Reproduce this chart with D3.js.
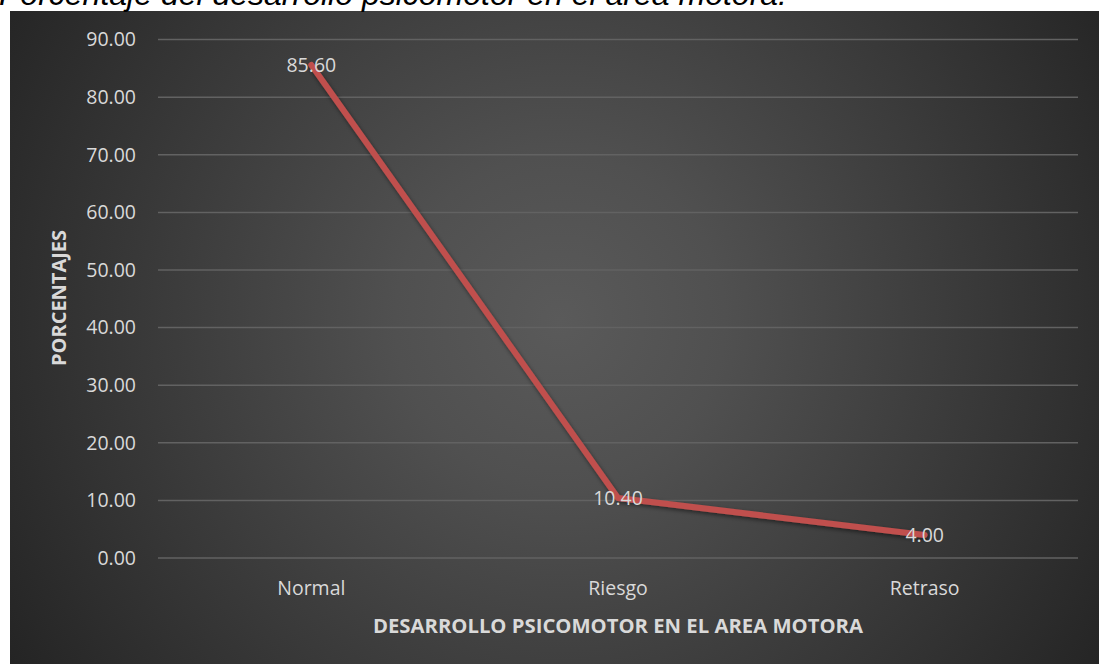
<!DOCTYPE html>
<html><head><meta charset="utf-8">
<script src="https://cdn.jsdelivr.net/npm/d3@7"></script>
<style>html,body{margin:0;padding:0;background:#fff;overflow:hidden}</style>
</head><body>
<script>
const categories = ["Normal", "Riesgo", "Retraso"];
const values = [85.60, 10.40, 4.00];
const yTicks = [0, 10, 20, 30, 40, 50, 60, 70, 80, 90];
const title = "Porcentaje del desarrollo psicomotor en el área motora.";
const yTitle = "PORCENTAJES";
const xTitle = "DESARROLLO PSICOMOTOR EN EL AREA MOTORA";

const W = 1099, H = 664;
const svg = d3.select("body").append("svg").attr("width", W).attr("height", H);
const defs = svg.append("defs");
const rg = defs.append("radialGradient").attr("id", "bg")
  .attr("gradientUnits", "userSpaceOnUse")
  .attr("cx", 560).attr("cy", 320).attr("r", 660);
rg.append("stop").attr("offset", "0%").attr("stop-color", "#5a5a5a");
rg.append("stop").attr("offset", "25%").attr("stop-color", "#505050");
rg.append("stop").attr("offset", "100%").attr("stop-color", "#232323");
const f = defs.append("filter").attr("id", "sh").attr("x", "-10%").attr("y", "-10%").attr("width", "120%").attr("height", "120%");
f.append("feDropShadow").attr("dx", 1).attr("dy", 2).attr("stdDeviation", 2).attr("flood-color", "#000").attr("flood-opacity", 0.5);

svg.append("rect").attr("x", 10).attr("y", 11).attr("width", W - 10).attr("height", H - 11).attr("fill", "url(#bg)");

svg.append("text").attr("x", -1).attr("y", 5)
  .attr("font-family", "Liberation Sans, Arial, sans-serif").attr("font-style", "italic")
  .attr("font-size", 32).attr("fill", "#000").text(title);

const x = d3.scaleBand().domain(categories).range([158, 1078]);
const y = d3.scaleLinear().domain([0, 90]).range([558, 39.6]);

const grid = svg.append("g");
grid.selectAll("line").data(yTicks).join("line")
  .attr("x1", 158).attr("x2", 1078)
  .attr("y1", d => y(d)).attr("y2", d => y(d))
  .attr("stroke", "#626262").attr("stroke-width", 1.5);

const font = "Open Sans, Noto Sans, sans-serif";
const fs = 19.5;
const yAxis = d3.axisLeft(y).tickValues(yTicks).tickFormat(d3.format(".2f")).tickSize(0).tickPadding(0);
const ya = svg.append("g").attr("transform", "translate(136,0)").call(yAxis);
ya.select(".domain").remove();
ya.selectAll("text").attr("font-family", font).attr("font-size", fs).attr("fill", "#d9d9d9");

const xAxis = d3.axisBottom(x).tickSize(0).tickPadding(0);
const xa = svg.append("g").attr("transform", "translate(0,581)").call(xAxis);
xa.select(".domain").remove();
xa.selectAll("text").attr("font-family", font).attr("font-size", fs).attr("fill", "#d9d9d9");

const line = d3.line().x((d, i) => x(categories[i]) + x.bandwidth() / 2).y(d => y(d));
svg.append("path").datum(values).attr("d", line)
  .attr("fill", "none").attr("stroke", "#c0504d").attr("stroke-width", 6)
  .attr("stroke-linejoin", "round").attr("stroke-linecap", "round").attr("filter", "url(#sh)");

svg.append("g").selectAll("text").data(values).join("text")
  .attr("x", (d, i) => x(categories[i]) + x.bandwidth() / 2)
  .attr("y", d => y(d))
  .attr("dy", "0.35em").attr("text-anchor", "middle")
  .attr("font-family", font).attr("font-size", fs).attr("fill", "#d9d9d9")
  .text(d => d3.format(".2f")(d));

svg.append("text").attr("transform", "translate(66,298) rotate(-90)")
  .attr("text-anchor", "middle").attr("font-family", font).attr("font-weight", "bold")
  .attr("font-size", 20).attr("fill", "#d9d9d9").text(yTitle);

svg.append("text").attr("x", 618).attr("y", 633)
  .attr("text-anchor", "middle").attr("font-family", font).attr("font-weight", "bold")
  .attr("font-size", 20.3).attr("fill", "#d9d9d9").text(xTitle);
</script>
</body></html>
